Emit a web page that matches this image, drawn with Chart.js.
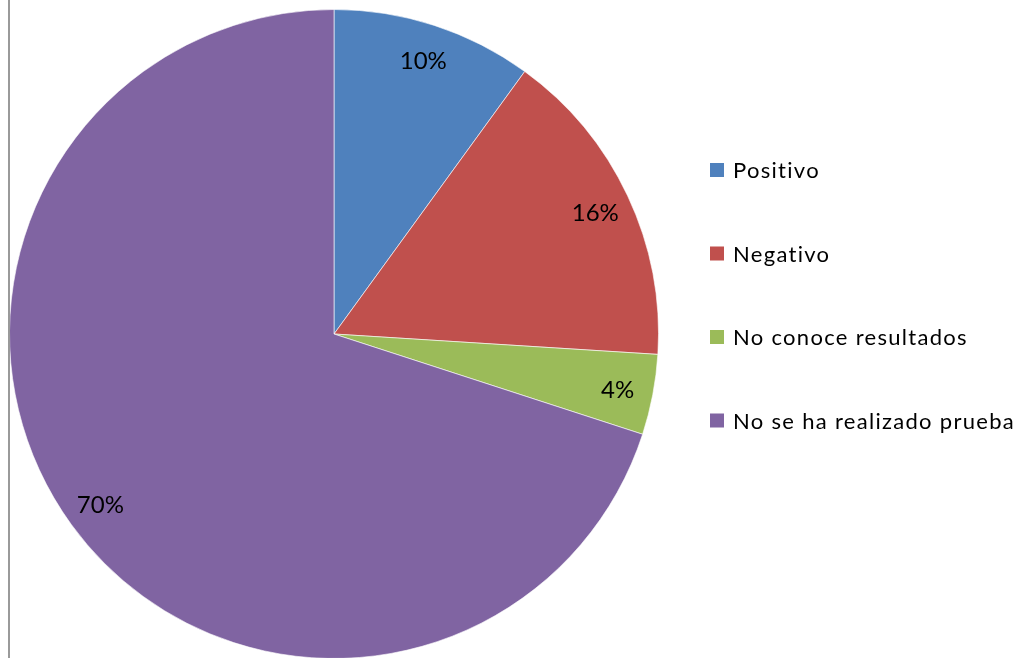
<!DOCTYPE html>
<html>
<head>
<meta charset="utf-8">
<script src="https://cdn.jsdelivr.net/npm/chart.js@4.4.1/dist/chart.umd.min.js"></script>
<style>
  html, body { margin: 0; padding: 0; background: #fff; overflow: hidden; }
  #wrap { position: relative; width: 1019px; height: 668px; }
</style>
</head>
<body>
<div id="wrap"><canvas id="chart" width="1019" height="668"></canvas></div>
<script>
// Respuestas sobre la prueba
const categories = ['Positivo', 'Negativo', 'No conoce resultados', 'No se ha realizado prueba'];
const values = [10, 16, 4, 70];
const pctLabels = ['10%', '16%', '4%', '70%'];
const colors = ['#4F81BD', '#C0504D', '#9BBB59', '#8064A2'];

const FONT = 'Lato, "Open Sans", sans-serif';

// Percent labels placed inside each slice, near the rim
const sliceLabels = {
  id: 'sliceLabels',
  afterDatasetsDraw(chart) {
    const ctx = chart.ctx;
    const meta = chart.getDatasetMeta(0);
    ctx.save();
    ctx.font = '24px ' + FONT;
    ctx.fillStyle = '#000';
    ctx.textAlign = 'center';
    ctx.textBaseline = 'middle';
    meta.data.forEach((arc, i) => {
      const p = arc.getProps(['x', 'y', 'startAngle', 'endAngle', 'outerRadius'], true);
      const mid = (p.startAngle + p.endAngle) / 2;
      const r = p.outerRadius * 0.89;
      ctx.fillText(pctLabels[i], p.x + Math.cos(mid) * r, p.y + Math.sin(mid) * r + 2);
    });
    ctx.restore();
  }
};

// Side legend and the left frame line
const sideLegend = {
  id: 'sideLegend',
  afterDraw(chart) {
    const ctx = chart.ctx;
    ctx.save();
    ctx.strokeStyle = '#9a9a9a';
    ctx.lineWidth = 2;
    ctx.beginPath();
    ctx.moveTo(9, 0);
    ctx.lineTo(9, chart.height);
    ctx.stroke();

    ctx.font = '22px ' + FONT;
    ctx.textBaseline = 'middle';
    ctx.textAlign = 'left';
    if ('letterSpacing' in ctx) ctx.letterSpacing = '1.3px';
    const x0 = 710, y0 = 170, step = 83.5;
    categories.forEach((name, i) => {
      const y = y0 + i * step;
      ctx.fillStyle = colors[i];
      ctx.fillRect(x0, y - 7, 14, 14);
      ctx.fillStyle = '#000';
      ctx.fillText(name, x0 + 23, y + 1);
    });
    ctx.restore();
  }
};

new Chart(document.getElementById('chart'), {
  type: 'pie',
  data: {
    labels: categories,
    datasets: [{
      data: values,
      backgroundColor: colors,
      borderColor: 'rgba(255,255,255,0.6)',
      borderWidth: 1
    }]
  },
  options: {
    responsive: false,
    animation: false,
    layout: { padding: { left: 9, top: 9, bottom: 9, right: 360 } },
    plugins: {
      legend: { display: false },
      tooltip: { enabled: false }
    }
  },
  plugins: [sliceLabels, sideLegend]
});
</script>
</body>
</html>
